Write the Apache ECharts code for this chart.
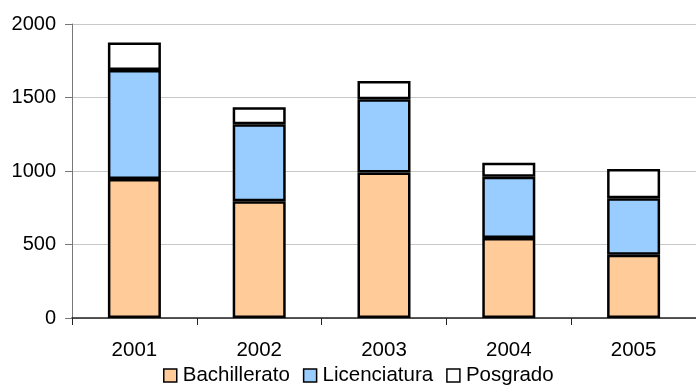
<!DOCTYPE html>
<html>
<head>
<meta charset="utf-8">
<script src="https://cdn.jsdelivr.net/npm/echarts@6/dist/echarts.min.js"></script>
<style>
    html, body { margin: 0; padding: 0; background: #fff; }
    #chart { width: 696px; height: 392px; }
</style>
</head>
<body>
<div id="chart"></div>
<script>
// categorías y valores
var years = ['2001', '2002', '2003', '2004', '2005']
var bachillerato = [945, 795, 990, 545, 430]
var licenciatura = [742, 523, 498, 416, 384]
var posgrado = [188, 115, 125, 95, 200]

var font = 'Liberation Sans, Arial, sans-serif'

function barSeries (name, data, color) {
    return {
        name: name,
        type: 'bar',
        stack: 'total',
        barWidth: 53,
        data: data,
        itemStyle: {
            color: color,
            borderColor: '#000',
            borderWidth: 2.5
        }
    }
}

var myChart = echarts.init(document.getElementById('chart'))
myChart.setOption({
    animation: false,
    grid: {
        left: 72,
        right: -10,
        top: 24,
        bottom: 74
    },
    legend: {
        bottom: 1,
        left: 158,
        itemWidth: 13,
        itemHeight: 13,
        itemGap: 13,
        icon: 'rect',
        textStyle: { fontFamily: font, fontSize: 20.5, color: '#000', padding: [0, 0, 0, 1] },
        itemStyle: { borderColor: '#000', borderWidth: 1.5 },
        data: ['Bachillerato', 'Licenciatura', 'Posgrado']
    },
    xAxis: {
        type: 'category',
        data: years,
        axisLine: { lineStyle: { color: '#222', width: 1.5 } },
        axisTick: { show: true, length: 7, lineStyle: { color: '#222' } },
        axisLabel: { fontFamily: font, fontSize: 20.5, color: '#000', margin: 22 }
    },
    yAxis: {
        type: 'value',
        min: 0,
        max: 2000,
        interval: 500,
        axisLine: { show: true, lineStyle: { color: '#777' } },
        axisTick: { show: true, length: 7, lineStyle: { color: '#777' } },
        axisLabel: {
            fontFamily: font,
            fontSize: 20,
            color: '#000',
            margin: 16,
            formatter: function (v) { return String(v) }
        },
        splitLine: { lineStyle: { color: '#c8c8c8' } }
    },
    series: [
        barSeries('Bachillerato', bachillerato, '#ffcc99'),
        barSeries('Licenciatura', licenciatura, '#99ccff'),
        barSeries('Posgrado', posgrado, '#ffffff')
    ]
})
</script>
</body>
</html>
